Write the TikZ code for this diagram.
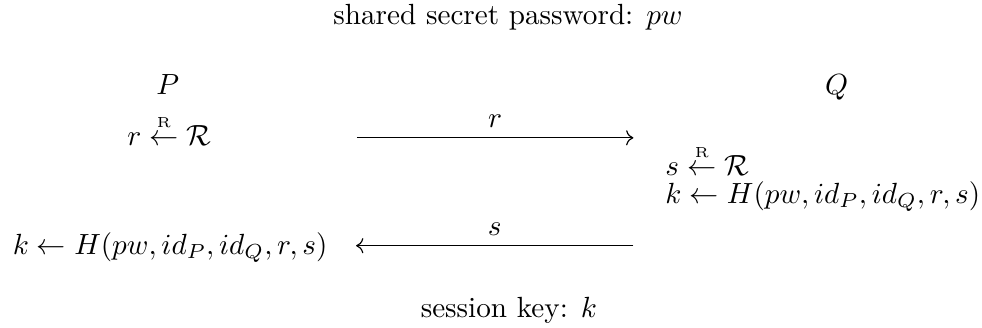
\documentclass[tikz,border=0pt]{standalone}
\usepackage{amsmath}
\usetikzlibrary{arrows.meta}

\newcommand{\rndget}{\overset{\raisebox{0.5pt}{$\scriptscriptstyle\mathrm{R}$}}{\leftarrow}}

\begin{document}
\begin{tikzpicture}[
  party/.style={anchor=base, inner sep=0pt},
  step1/.style={anchor=base, inner sep=0pt},
  stepl/.style={anchor=base west, inner sep=0pt},
  msg/.style={-{Computer Modern Rightarrow}, line width=0.4pt},
  lbl/.style={above}
]
\useasboundingbox (0,0) rectangle (11.83,-3.95);

\node[party] (title) at (6.12,-0.29) {shared secret password: $pw$};

\node[party] (partyP) at (2.02,-1.14) {$P$};
\node[party] (partyQ) at (10.08,-1.14) {$Q$};

\node[step1] (pickR) at (2.04,-1.75) {$r \rndget \mathcal{R}$};
\node[stepl] (pickS) at (8.01,-2.11) {$s \rndget \mathcal{R}$};
\node[stepl] (keyQ) at (8.01,-2.45) {$k \leftarrow H(pw, id_P, id_Q, r, s)$};
\node[step1] (keyP) at (2.05,-3.06) {$k \leftarrow H(pw, id_P, id_Q, r, s)$};

\coordinate (r0) at (4.30,-1.66);
\coordinate (r1) at (7.63,-1.66);
\coordinate (s0) at (7.63,-2.96);
\coordinate (s1) at (4.29,-2.96);
\draw[msg] (r0) -- node[lbl] {$r$} (r1);
\draw[msg] (s0) -- node[lbl] {$s$} (s1);

\node[party] (sessionkey) at (6.13,-3.82) {session key: $k$};

\end{tikzpicture}
\end{document}
